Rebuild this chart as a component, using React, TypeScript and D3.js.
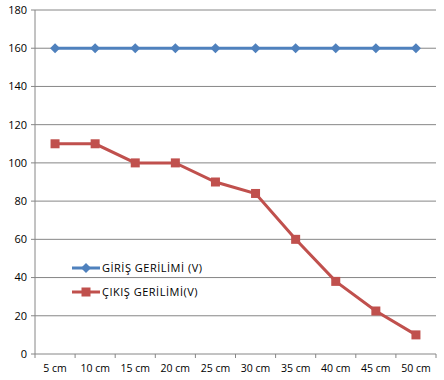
import React from "react";
import * as d3 from "d3";

const categories = ["5 cm", "10 cm", "15 cm", "20 cm", "25 cm", "30 cm", "35 cm", "40 cm", "45 cm", "50 cm"];
const girisValues = [160, 160, 160, 160, 160, 160, 160, 160, 160, 160];
const cikisValues = [110, 110, 100, 100, 90, 84, 60, 38, 22.5, 10];
const yTicks = [0, 20, 40, 60, 80, 100, 120, 140, 160, 180];
const seriesNames = ["GİRİŞ GERİLİMİ (V)", "ÇIKIŞ GERİLİMİ(V)"];

export default function App() {
  const W = 444, H = 380;
  const left = 35, right = 436, top = 10, bottom = 354;
  const x = d3.scaleBand<string>().domain(categories).range([left, right]);
  const y = d3.scaleLinear().domain([0, 180]).range([bottom, top]);
  const cx = (c: string) => (x(c) as number) + x.bandwidth() / 2;
  const line = d3.line<number>().x((_, i) => cx(categories[i])).y((d) => y(d));
  const blue = "#4F81BD", red = "#C0504D";
  const font = "'Open Sans', 'Liberation Sans', sans-serif";
  const grid = "#868686";
  return (
    <svg width={W} height={H} style={{ position: "absolute", left: 0, top: 0 }} fontFamily={font}>
      <rect x={0} y={0} width={W} height={H} fill="#fff" />
      {yTicks.map((t) => (
        <g key={t}>
          {t > 0 && <line x1={left} x2={right} y1={y(t)} y2={y(t)} stroke={grid} strokeWidth={1} />}
          <line x1={left - 4} x2={left} y1={y(t)} y2={y(t)} stroke={grid} />
          <text x={left - 8} y={y(t)} dy="0.35em" textAnchor="end" fontSize={11} fill="#000">{t}</text>
        </g>
      ))}
      <line x1={left} x2={left} y1={top} y2={bottom} stroke={grid} />
      <line x1={left} x2={right} y1={bottom} y2={bottom} stroke={grid} />
      {categories.map((c, i) => (
        <line key={"t" + i} x1={x(c) as number} x2={x(c) as number} y1={bottom} y2={bottom + 4} stroke={grid} />
      ))}
      <line x1={right} x2={right} y1={bottom} y2={bottom + 4} stroke={grid} />
      {categories.map((c) => (
        <text key={c} x={cx(c)} y={372} textAnchor="middle" fontSize={10.5} fill="#000">{c}</text>
      ))}
      <path d={line(girisValues) || ""} fill="none" stroke={blue} strokeWidth={3} />
      {girisValues.map((v, i) => {
        const px = cx(categories[i]), py = y(v);
        return <path key={"d" + i} d={`M${px},${py - 5}L${px + 5},${py}L${px},${py + 5}L${px - 5},${py}Z`} fill={blue} />;
      })}
      <path d={line(cikisValues) || ""} fill="none" stroke={red} strokeWidth={3} />
      {cikisValues.map((v, i) => {
        const px = cx(categories[i]), py = y(v);
        return <rect key={"s" + i} x={px - 4.5} y={py - 4.5} width={9} height={9} fill={red} />;
      })}
      <g>
        <line x1={72} x2={100} y1={268} y2={268} stroke={blue} strokeWidth={3} />
        <path d="M86,263L91,268L86,273L81,268Z" fill={blue} />
        <text x={102} y={268} dy="0.35em" fontSize={11} letterSpacing={0.5} fill="#000">{seriesNames[0]}</text>
        <line x1={72} x2={100} y1={292} y2={292} stroke={red} strokeWidth={3} />
        <rect x={81.5} y={287.5} width={9} height={9} fill={red} />
        <text x={102} y={292} dy="0.35em" fontSize={11} letterSpacing={0.5} fill="#000">{seriesNames[1]}</text>
      </g>
    </svg>
  );
}
